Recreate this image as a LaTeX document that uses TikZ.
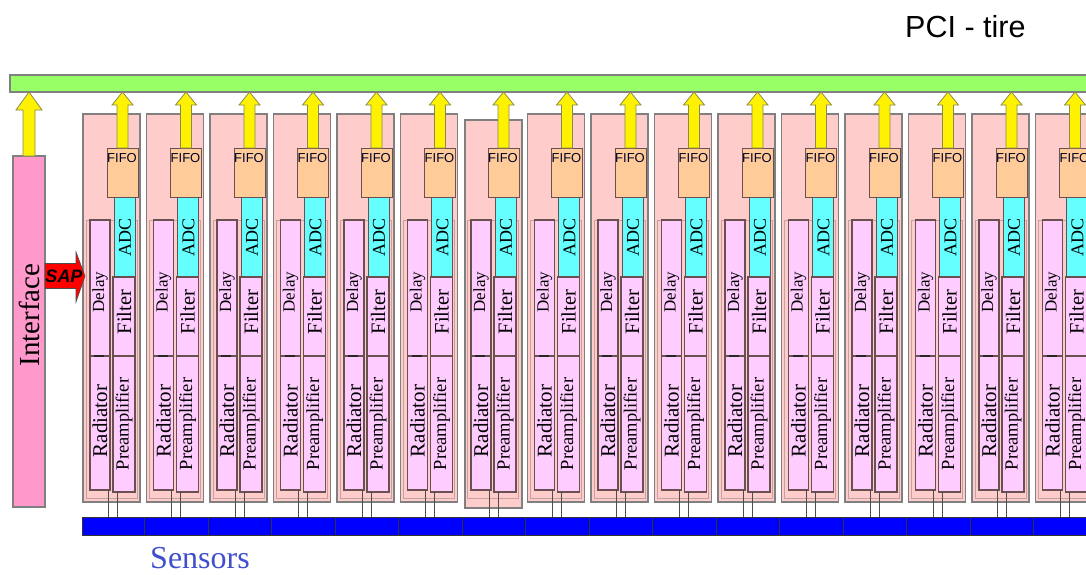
\documentclass[tikz,border=0pt]{standalone}
\usepackage{fontspec}
\setmainfont{Liberation Serif}
\newfontfamily\arialf{Liberation Sans}
\usetikzlibrary{calc}
\definecolor{busgreen}{HTML}{99FF66}
\definecolor{colpink}{HTML}{FFCCCC}
\definecolor{boxpink}{HTML}{FFCCFF}
\definecolor{fifoc}{HTML}{FFCC99}
\definecolor{adcc}{HTML}{66FFFF}
\definecolor{ifacec}{HTML}{FF99CC}
\definecolor{sensblue}{HTML}{0000FF}
\definecolor{senstext}{HTML}{4050CC}
\definecolor{edgegray}{HTML}{808080}
\definecolor{darkedge}{HTML}{6A5050}
\definecolor{paneledge}{HTML}{C8A0A0}
\definecolor{arrowedge}{HTML}{8A8A50}
\newcommand\yarrow[5]{%
  \filldraw[yarrowst] let \p1=(#1), \p2=(#2) in
    (\x1-#3pt,\y1) -- (\x1-#3pt,\y2-#5pt) -- (\x1-#4pt,\y2-#5pt) -- (\x1,\y2)
    -- (\x1+#4pt,\y2-#5pt) -- (\x1+#3pt,\y2-#5pt) -- (\x1+#3pt,\y1) -- cycle;}
\begin{document}
\begin{tikzpicture}[x=1pt,y=-1pt,
  nw/.style={anchor=north west, inner sep=0pt, outer sep=0pt},
  colbox/.style={nw, draw=edgegray, line width=1.6pt, fill=colpink},
  panel/.style={nw, draw=paneledge, line width=0.8pt, fill=colpink},
  pbox/.style={nw, draw=darkedge, line width=1.2pt, fill=boxpink},
  adcbox/.style={nw, draw=darkedge, line width=1pt, fill=adcc},
  fifobox/.style={nw, draw=darkedge, line width=1pt, fill=fifoc},
  vlabel/.style={rotate=90, inner sep=0pt},
  yarrowst/.style={fill=yellow, draw=arrowedge, line width=0.8pt},
  sline/.style={draw=black!70, line width=0.8pt},
  divline/.style={draw=black!80, line width=1pt}]
\useasboundingbox (0,0) rectangle (1086,574);
\fill[white] (0,0) rectangle (1086,574);
\clip (0,0) rectangle (1086,574);

\node[anchor=base west, inner sep=0pt, font=\arialf\fontsize{30.5}{30.5}\selectfont] (pci) at (905,37) {PCI - tire};

\node[nw, draw=edgegray, line width=1.6pt, fill=busgreen, minimum width=1090pt, minimum height=17pt] (bus) at (10,75) {};

\node[nw, draw=black!80, line width=1pt, fill=sensblue, minimum width=1010pt, minimum height=18pt] (sbar) at (82,517) {};
\foreach \k in {0,...,15}{
  \draw[divline] let \p1=(sbar.north), \p2=(sbar.south) in (144.5+63.5*\k,\y1) -- (144.5+63.5*\k,\y2);
}
\node[font=\fontsize{32}{32}\selectfont, text=senstext, inner sep=0pt] (sens) at (200,558) {Sensors};

\node[nw, draw=edgegray, line width=1.6pt, fill=ifacec, minimum width=32pt, minimum height=351pt] (iface) at (13,156) {};
\node[vlabel, font=\fontsize{29}{29}\selectfont] (ifacet) at (29,315) {Interface};
\yarrow{iface.north}{bus.south}{6}{13}{18}

\foreach \i in {0,...,15}{
  \pgfmathsetmacro\x{83+63.5*\i}
  \pgfmathsetmacro\dy{\i==6 ? 6 : 0}
  \node[colbox, minimum width=57pt, minimum height=388pt] (C\i) at (\x+\dy/6,114+\dy) {};
  \node[panel, minimum width=51pt, minimum height=278pt] (P\i) at (\x+3,220) {};
  \node[pbox, minimum width=20pt, minimum height=136pt] (D\i) at (\x+7,220) {};
  \node[pbox, minimum width=20pt, minimum height=134pt] (R\i) at (\x+7,356) {};
  \node[adcbox, minimum width=21pt, minimum height=80pt] (A\i) at (\x+31,197) {};
  \node[pbox, minimum width=22pt, minimum height=79pt] (Fl\i) at (\x+30,277) {};
  \node[pbox, minimum width=22pt, minimum height=136pt] (Pa\i) at (\x+30,356) {};
  \node[fifobox, minimum width=31pt, minimum height=49pt] (F\i) at (\x+24,148) {};
  \draw[line width=2.2pt, black!85] (\x+11,356) -- (\x+21,356);
  \node[inner sep=0pt, font=\arialf\fontsize{13}{13}\selectfont, text=black!85!blue] (Ft\i) at (\x+39,158) {FIFO};
  \node[vlabel, font=\fontsize{18}{18}\selectfont] (At\i) at (\x+42,237) {ADC};
  \node[vlabel, font=\fontsize{17}{17}\selectfont] (Dt\i) at (\x+17,292) {Delay};
  \node[vlabel, font=\fontsize{20.5}{20.5}\selectfont] (Flt\i) at (\x+41,312) {Filter};
  \node[vlabel, font=\fontsize{21}{21}\selectfont] (Rt\i) at (\x+17,421) {Radiator};
  \node[vlabel, font=\fontsize{18.5}{18.5}\selectfont] (Pat\i) at (\x+41,424) {Preamplifier};
  \yarrow{F\i.north}{bus.south}{5.5}{10.5}{13}
  \draw[sline] let \p1=(R\i.south east), \p2=(sbar.north) in (\x1-2pt,\y1) -- (\x1-2pt,\y2);
  \draw[sline] let \p1=(Pa\i.south west), \p2=(sbar.north) in (\x1+4pt,\y1) -- (\x1+4pt,\y2);
}

\coordinate (sapS) at (iface.east |- 0,276);
\coordinate (sapE) at (C0.west |- 0,276);
\filldraw[fill=red, draw=black!70, line width=0.6pt] let \p1=(sapS), \p2=(sapE) in
  (\x1,\y1+12.5pt) -- (\x2-7pt,\y1+12.5pt) -- (\x2-7pt,\y1+24pt) -- (\x2+2pt,\y1)
  -- (\x2-7pt,\y1-26pt) -- (\x2-7pt,\y1-12.5pt) -- (\x1,\y1-12.5pt) -- cycle;
\node[inner sep=0pt, font=\arialf\bfseries\itshape\fontsize{18}{18}\selectfont] (sapt) at (64,276) {SAP};
\end{tikzpicture}
\end{document}
